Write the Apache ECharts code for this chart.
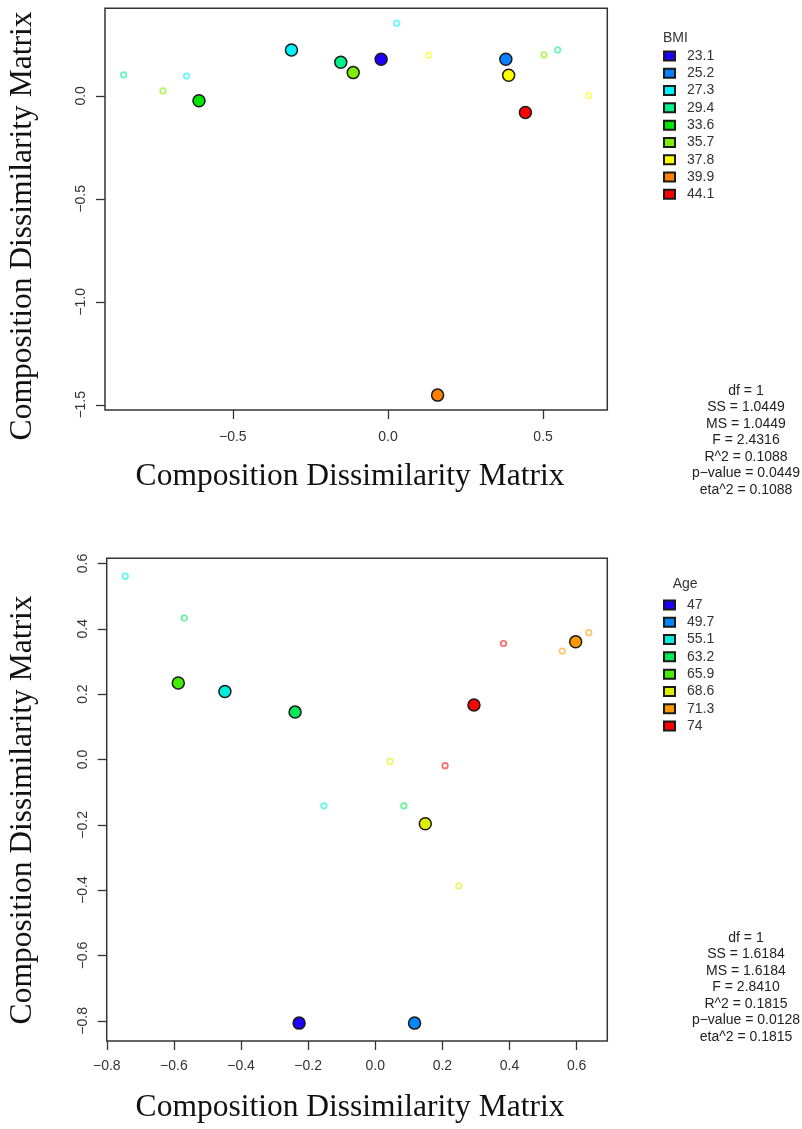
<!DOCTYPE html>
<html>
<head>
<meta charset="utf-8">
<script src="https://cdn.jsdelivr.net/npm/echarts@6/dist/echarts.min.js"></script>
<style>
  html, body { margin: 0; padding: 0; background: #ffffff; }
  #chart { width: 802px; height: 1129px; }
</style>
</head>
<body>
<div id="chart"></div>
<script>
// ---------- BMI panel ----------
const bmiLevels = ['23.1', '25.2', '27.3', '29.4', '33.6', '35.7', '37.8', '39.9', '44.1'];
// group centroids (one per level)
const bmiCentroidX = [-0.022, 0.380, -0.311, -0.152, -0.609, -0.112, 0.389, 0.160, 0.443];
const bmiCentroidY = [0.178, 0.178, 0.223, 0.163, -0.024, 0.113, 0.100, -1.453, -0.081];
// individual samples
const bmiSampleLevel = ['27.3', '27.3', '29.4', '29.4', '35.7', '35.7', '37.8', '37.8'];
const bmiSampleX = [-0.649, 0.028, -0.852, 0.547, -0.725, 0.503, 0.131, 0.647];
const bmiSampleY = [0.096, 0.353, 0.102, 0.223, 0.024, 0.199, 0.197, 0.001];
const bmiStats = ['df = 1', 'SS = 1.0449', 'MS = 1.0449', 'F = 2.4316', 'R^2 = 0.1088', 'p\u2212value = 0.0449', 'eta^2 = 0.1088'];
const bmiXTicks = [-0.5, 0, 0.5];
const bmiYTicks = [-1.5, -1, -0.5, 0];

// ---------- Age panel ----------
const ageLevels = ['47', '49.7', '55.1', '63.2', '65.9', '68.6', '71.3', '74'];
const ageCentroidX = [-0.227, 0.117, -0.448, -0.239, -0.587, 0.149, 0.597, 0.294];
const ageCentroidY = [-0.807, -0.807, 0.208, 0.145, 0.234, -0.197, 0.360, 0.167];
const ageSampleLevel = ['55.1', '55.1', '63.2', '63.2', '68.6', '68.6', '71.3', '71.3', '74', '74'];
const ageSampleX = [-0.745, -0.153, -0.569, 0.085, 0.044, 0.249, 0.636, 0.557, 0.382, 0.208];
const ageSampleY = [0.561, -0.142, 0.433, -0.142, -0.006, -0.387, 0.388, 0.332, 0.355, -0.019];
const ageStats = ['df = 1', 'SS = 1.6184', 'MS = 1.6184', 'F = 2.8410', 'R^2 = 0.1815', 'p\u2212value = 0.0128', 'eta^2 = 0.1815'];
const ageXTicks = [-0.8, -0.6, -0.4, -0.2, 0, 0.2, 0.4, 0.6];
const ageYTicks = [-0.8, -0.6, -0.4, -0.2, 0, 0.2, 0.4, 0.6];

const axisTitle = 'Composition Dissimilarity Matrix';

// palettes
const bmiPalette = ['#1f00ff', '#0a80ff', '#00f2ff', '#00f08a', '#00e600', '#7fee00', '#ffff00', '#ff8000', '#ff0000'];
const agePalette = ['#1f00ff', '#0088ff', '#00eedd', '#00ea55', '#44ee00', '#ddee00', '#ff9900', '#ff0000'];

const SANS = '"Liberation Sans", Arial, Helvetica, sans-serif';
const SERIF = '"Liberation Serif", "Times New Roman", serif';

// R-style axis limits: data range extended by 4% on each side
function rRange(a, b) {
  const all = a.concat(b);
  const lo = Math.min.apply(null, all), hi = Math.max.apply(null, all);
  const d = (hi - lo) * 0.04;
  return [lo - d, hi + d];
}

function fmt(v) {
  const s = (Math.abs(v) < 1e-9 ? 0 : v).toFixed(1);
  return s.replace('-', '\u2212');
}

function tint(hex, a) {
  const n = parseInt(hex.slice(1), 16);
  return 'rgba(' + ((n >> 16) & 255) + ',' + ((n >> 8) & 255) + ',' + (n & 255) + ',' + a + ')';
}

function makeAxes(g, xr, yr, xt, yt, xMargin, yMargin) {
  const common = {
    type: 'value',
    gridIndex: g,
    axisLine: { show: false, onZero: false },
    splitLine: { show: false },
    axisTick: { show: true, length: 9, lineStyle: { color: '#333', width: 1.3 } },
    axisLabel: { fontSize: 14, color: '#333', fontFamily: SANS, formatter: fmt }
  };
  const x = echarts.util.merge({
    min: xr[0], max: xr[1],
    axisTick: { customValues: xt },
    axisLabel: { customValues: xt, margin: xMargin }
  }, common);
  const y = echarts.util.merge({
    min: yr[0], max: yr[1],
    axisTick: { customValues: yt },
    axisLabel: { customValues: yt, margin: yMargin, rotate: 90 }
  }, common);
  return [x, y];
}

function makeSeries(g, levels, palette, cx, cy, sLevel, sx, sy) {
  const out = [];
  out.push({
    type: 'scatter',
    name: 'samples' + g,
    xAxisIndex: g, yAxisIndex: g,
    symbol: 'circle',
    symbolSize: 5.5,
    z: 2,
    silent: true,
    data: sx.map(function (x, i) {
      const c = palette[levels.indexOf(sLevel[i])];
      return {
        value: [x, sy[i]],
        itemStyle: { color: 'rgba(255,255,255,0)', borderColor: tint(c, 0.75), borderWidth: 1.7 }
      };
    })
  });
  levels.forEach(function (lv, i) {
    out.push({
      type: 'scatter',
      name: lv,
      xAxisIndex: g, yAxisIndex: g,
      symbol: 'circle',
      symbolSize: 12,
      z: 3,
      itemStyle: { color: palette[i], borderColor: '#1a1a1a', borderWidth: 1.5, opacity: 1 },
      data: [[cx[i], cy[i]]]
    });
  });
  return out;
}

const bmiX = rRange(bmiCentroidX, bmiSampleX), bmiY = rRange(bmiCentroidY, bmiSampleY);
const ageX = rRange(ageCentroidX, ageSampleX), ageY = rRange(ageCentroidY, ageSampleY);

const axesTop = makeAxes(0, bmiX, bmiY, bmiXTicks, bmiYTicks, 20, 17);
const axesBot = makeAxes(1, ageX, ageY, ageXTicks, ageYTicks, 18.5, 17);

function legendFor(levels, top, left) {
  return {
    data: levels,
    orient: 'vertical',
    left: left, top: top,
    padding: 0,
    itemGap: 0,
    itemWidth: 11, itemHeight: 9,
    icon: 'rect',
    selectedMode: false,
    textStyle: { fontSize: 14, color: '#333', fontFamily: SANS, lineHeight: 17.3, padding: [0, 0, 0, 7] }
  };
}

function txt(x, y, text, opts) {
  return {
    type: 'text', x: x, y: y, rotation: opts.rotation || 0, silent: true,
    style: {
      text: text,
      font: opts.font,
      fill: opts.fill || '#111',
      align: opts.align || 'center', textAlign: opts.align || 'center',
      verticalAlign: opts.va || 'middle', textVerticalAlign: opts.va || 'middle',
      lineHeight: opts.lineHeight
    }
  };
}

const chart = echarts.init(document.getElementById('chart'), null, { renderer: 'canvas' });
chart.setOption({
  animation: false,
  backgroundColor: '#ffffff',
  grid: [
    { left: 105, top: 8.3, width: 502.3, height: 401.7, show: true, borderColor: '#333', borderWidth: 1.5, backgroundColor: 'rgba(0,0,0,0)' },
    { left: 106.7, top: 558.3, width: 500.6, height: 482.7, show: true, borderColor: '#333', borderWidth: 1.5, backgroundColor: 'rgba(0,0,0,0)' }
  ],
  xAxis: [axesTop[0], axesBot[0]],
  yAxis: [axesTop[1], axesBot[1]],
  legend: [legendFor(bmiLevels, 47.3, 663), legendFor(ageLevels, 596.3, 663)],
  series: makeSeries(0, bmiLevels, bmiPalette, bmiCentroidX, bmiCentroidY, bmiSampleLevel, bmiSampleX, bmiSampleY)
    .concat(makeSeries(1, ageLevels, agePalette, ageCentroidX, ageCentroidY, ageSampleLevel, ageSampleX, ageSampleY)),
  graphic: [
    txt(23, 226, axisTitle, { rotation: Math.PI / 2, font: '31.5px ' + SERIF }),
    txt(350, 477, axisTitle, { font: '31.5px ' + SERIF }),
    txt(23, 810, axisTitle, { rotation: Math.PI / 2, font: '31.5px ' + SERIF }),
    txt(350, 1108, axisTitle, { font: '31.5px ' + SERIF }),
    txt(663, 38, 'BMI', { font: '14px ' + SANS, align: 'left', fill: '#333' }),
    txt(672.7, 584, 'Age', { font: '14px ' + SANS, align: 'left', fill: '#333' }),
    txt(746, 382.7, bmiStats.join('\n'), { font: '14px ' + SANS, va: 'top', lineHeight: 16.5, fill: '#222' }),
    txt(746, 929.7, ageStats.join('\n'), { font: '14px ' + SANS, va: 'top', lineHeight: 16.5, fill: '#222' })
  ]
});
</script>
</body>
</html>
